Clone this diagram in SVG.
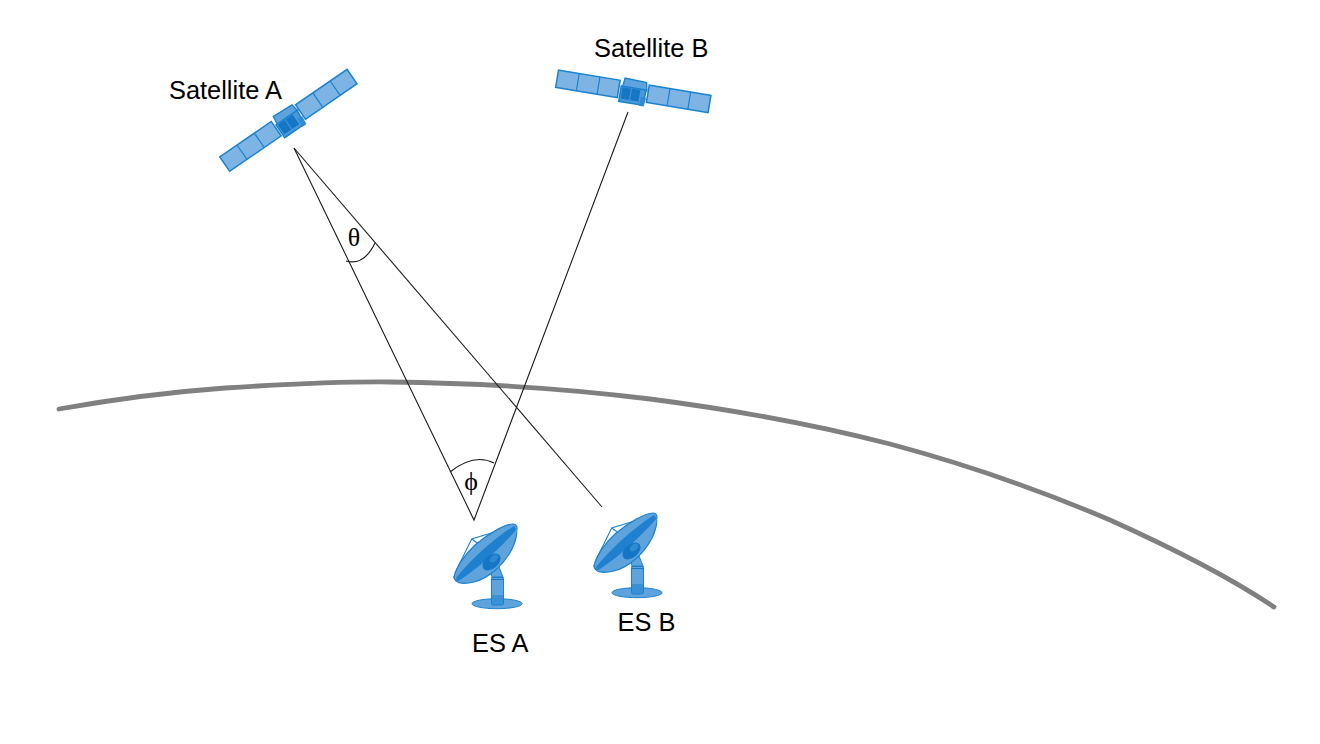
<svg xmlns="http://www.w3.org/2000/svg" xmlns:xlink="http://www.w3.org/1999/xlink" width="1320" height="744" viewBox="0 0 1320 744">
<style>
.lbl{font-family:"Liberation Sans",Arial,sans-serif;font-size:25.400px;fill:#000}
.ang{font-family:"Liberation Serif","Times New Roman",serif;font-size:26px;fill:#000;text-anchor:middle}
.ln{fill:none;stroke:#1a1a1a;stroke-width:1.100}
.panel{fill:#7db4e3;stroke:#1b82d0;stroke-width:1.500}
.sep{fill:none;stroke:#1b82d0;stroke-width:1.200}
</style>
<defs>
<g id="sat">
<rect class="panel" x="-77" y="-9" width="62.500" height="17.500"/>
<path class="sep" d="M-56-9V8.500M-35-9V8.500"/>
<rect class="panel" x="15" y="-9" width="62.500" height="17.500"/>
<path class="sep" d="M36-9V8.500M57-9V8.500"/>
<path d="M-11-3L-10-12L12-11L13.500-3Z" fill="#5ea3dc" stroke="#1b82d0" stroke-width="1.400"/>
<path d="M-12.500-3.500H13L11.500 12H-12.500Z" fill="#4a98da" stroke="#1b82d0" stroke-width="1.500"/>
<rect x="-11" y="-2.500" width="8.500" height="11.500" fill="#1476c4"/>
<rect x="-1.500" y="-2.500" width="8.500" height="11.500" fill="#1476c4"/>
<path d="M9 4H14L13 13H8Z" fill="#2f8ad4"/>
</g>
<g id="dish">
<ellipse cx="497" cy="603.700" rx="25" ry="5" fill="#5fa3dc" stroke="#1b82d0"/>
<rect x="491.500" y="577" width="12" height="28" rx="2" fill="#5fa3dc" stroke="#1b82d0"/>
<rect x="491.500" y="595" width="12" height="10" fill="#1b82d0" opacity=".55"/>
<path d="M491.500 577.500H503.500M491.500 579.500H503.500" stroke="#1476c4"/>
<path d="M492 577L489 566L497 562L503 577Z" fill="#5fa3dc" stroke="#1b82d0"/>
<path d="M471.700 539L455 575L513 525Z" fill="#fff"/>
<path d="M455 573L471.700 539L493 532.500M471.700 539L483 547" fill="none" stroke="#1b82d0" stroke-width="1.100"/>
<path d="M454 577C456 585 466 584 474 582C490 578 505 563 512 549C517 538 518 530 515 526Z" fill="#5fa3dc" stroke="#1b82d0" stroke-width="1.200"/>
<path d="M454 577C456 568 464 555 475 545C488 534 505 524 513 524C517 524 518 528 516 532L458 581C455 580 454 579 454 577Z" fill="#5fa3dc" stroke="#1b82d0" stroke-width="1.200"/>
<path d="M456 578C472 558 495 538 514 526C518 530 516 537 510 545C498 560 475 576 458 582Z" fill="#1f80cf"/>
<path d="M457 582C473 572 497 552 517 529C516 545 499 560 482 572C473 578 463 583 457 582Z" fill="#5fa3dc"/>
<ellipse cx="491.500" cy="562" rx="10.500" ry="6.500" transform="rotate(-40 491.500 562)" fill="#1476c4"/>
<ellipse cx="494" cy="558.500" rx="5" ry="3" transform="rotate(-40 494 558.500)" fill="#2f8ad4"/>
</g>
</defs>
<g id="connectors">
<path id="earth" fill="none" stroke="#808080" stroke-width="4.800" stroke-linecap="round" stroke-linejoin="round" d="M59 409C110 400 170 392 225 388C280 384.500 335 381.500 390 382C480 383 570 389 650 399C735 410 820 426 890 444C965 464 1035 488 1110 520C1170 547 1225 574 1274 607"/>
<path class="ln" d="M294 148L474 520L628 112"/>
<path class="ln" d="M294 148L602 507"/>
<path class="ln" d="M346 261Q364 266 375 243"/>
<path class="ln" d="M450 472Q474 453 494 463"/>
</g>
<g id="satellite-a"><use href="#sat" xlink:href="#sat" transform="translate(288.300 120.700) rotate(-34.500)"/><text class="lbl" x="169" y="99">Satellite A</text></g>
<g id="satellite-b"><use href="#sat" xlink:href="#sat" transform="translate(633 91.500) rotate(9.400)"/><text class="lbl" x="594" y="57">Satellite B</text></g>
<g id="es-a"><use href="#dish" xlink:href="#dish"/><text class="lbl" x="472" y="652">ES A</text></g>
<g id="es-b"><use href="#dish" xlink:href="#dish" transform="translate(140 -11)"/><text class="lbl" x="617.500" y="631">ES B</text></g>
<g id="angles"><text class="ang" x="354" y="246">θ</text><text class="ang" x="471" y="490">ϕ</text></g>
</svg>
